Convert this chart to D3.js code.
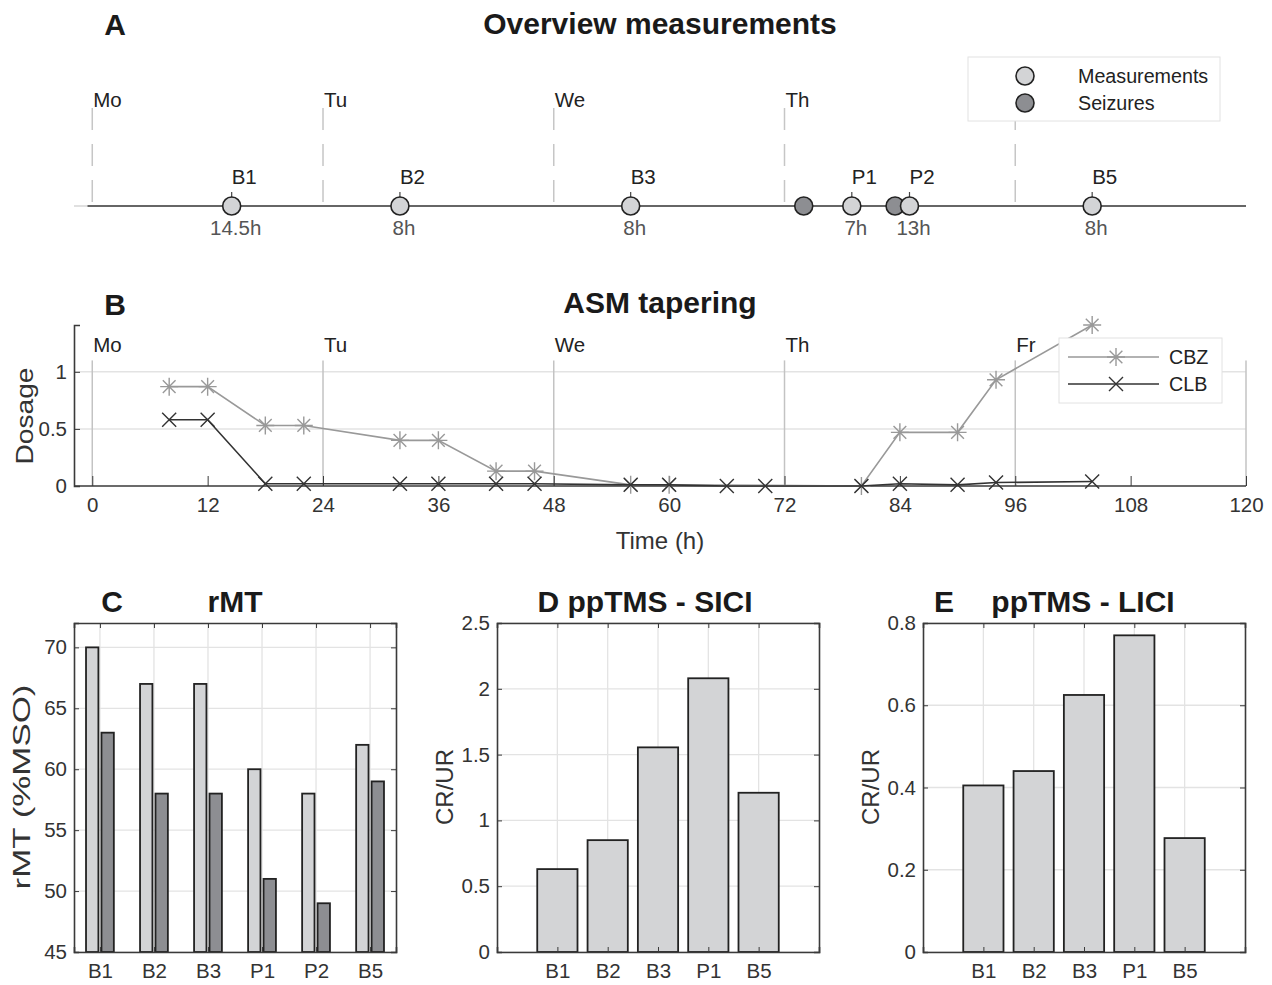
<!DOCTYPE html>
<html>
<head>
<meta charset="utf-8">
<script src="https://cdn.jsdelivr.net/npm/d3@7"></script>
<style>
body{margin:0;background:#fff}
text{font-family:"Liberation Sans",Arial,Helvetica,sans-serif}
</style>
</head>
<body>
<svg id="fig" width="1272" height="985"></svg>
<script>
// ---- data ----
var dayNames = ['Mo','Tu','We','Th','Fr','']
var dayHours = [0,24,48,72,96,120]

var measNames = ['B1','B2','B3','P1','P2','B5']
var measHours = [14.5,32,56,79,85,104]
var measClock = ['14.5h','8h','8h','7h','13h','8h']
var seizureHours = [74,83.5]

var doseHours = [8,12,18,22,32,36,42,46,56,60,66,70,80,84,90,94,104]
var cbz = [0.87,0.87,0.53,0.53,0.40,0.40,0.13,0.13,0.01,0.01,null,null,0.0,0.47,0.47,0.93,1.41]
var clb = [0.58,0.58,0.02,0.02,0.02,0.02,0.02,0.02,0.01,0.01,0.0,0.0,0.0,0.02,0.01,0.03,0.04]
var timeTicks = [0,12,24,36,48,60,72,84,96,108,120]
var doseTicks = [0,0.5,1]

var rmtCats = ['B1','B2','B3','P1','P2','B5']
var rmtLight = [70,67,67,60,58,62]
var rmtDark = [63,58,58,51,49,59]
var rmtTicks = [45,50,55,60,65,70]

var ppCats = ['B1','B2','B3','P1','B5']
var sici = [0.63,0.85,1.555,2.08,1.21]
var siciTicks = [0,0.5,1,1.5,2,2.5]
var lici = [0.405,0.44,0.625,0.77,0.277]
var liciTicks = [0,0.2,0.4,0.6,0.8]

// ---- colours / fonts ----
var axisCol = '#3a3a3a'
var gridCol = '#e3e3e3'
var lightFill = '#d3d4d6'
var darkFill = '#8d8e92'
var fs = '20.5px'      // tick labels, day labels
var lfs = '19.7px'     // legend text
var afs = '24px'       // axis labels

var svg = d3.select('#fig')

function title(x, y, txt){
    svg.append('text').attr('x',x).attr('y',y)
        .attr('text-anchor','middle')
        .style('font-size','30px').style('font-weight','bold').style('fill','#1a1a1a')
        .text(txt)
}

// shared time scale for A and B
var xT = d3.scaleLinear().domain([-1.9,120]).range([74,1246])

// ================= A =================
title(115, 35, 'A')
title(660, 34, 'Overview measurements')

var gA = svg.append('g')
var lineY = 206

gA.selectAll('line.day').data(dayHours.slice(0,5)).enter().append('line')
    .attr('x1',function(d){return xT(d)}).attr('x2',function(d){return xT(d)})
    .attr('y1',108).attr('y2',lineY)
    .attr('stroke','#c6c6c6').attr('stroke-width',1.5)
    .attr('stroke-dasharray','22,14')
gA.selectAll('text.day').data(dayNames.slice(0,5)).enter().append('text')
    .attr('x',function(d,i){return xT(dayHours[i])+1}).attr('y',107)
    .style('font-size',fs).style('fill','#222')
    .text(function(d){return d})

gA.append('line').attr('x1',xT(-1.9)).attr('x2',xT(-0.5)).attr('y1',lineY).attr('y2',lineY)
    .attr('stroke','#e0e0e0').attr('stroke-width',2)
gA.append('line').attr('x1',xT(-0.5)).attr('x2',xT(120)).attr('y1',lineY).attr('y2',lineY)
    .attr('stroke','#666').attr('stroke-width',2)

// stems above measurements
gA.selectAll('line.stem').data(measHours).enter().append('line')
    .attr('x1',function(d){return xT(d)}).attr('x2',function(d){return xT(d)})
    .attr('y1',lineY).attr('y2',lineY-14).attr('stroke','#444').attr('stroke-width',1.2)

gA.selectAll('circle.sz').data(seizureHours).enter().append('circle')
    .attr('cx',function(d){return xT(d)}).attr('cy',lineY).attr('r',9)
    .attr('fill',darkFill).attr('stroke','#222').attr('stroke-width',1.6)
gA.selectAll('circle.ms').data(measHours).enter().append('circle')
    .attr('cx',function(d){return xT(d)}).attr('cy',lineY).attr('r',9)
    .attr('fill',lightFill).attr('stroke','#222').attr('stroke-width',1.6)

gA.selectAll('text.mn').data(measNames).enter().append('text')
    .attr('x',function(d,i){return xT(measHours[i])}).attr('y',184)
    .style('font-size',fs).style('fill','#222')
    .text(function(d){return d})
gA.selectAll('text.mc').data(measClock).enter().append('text')
    .attr('x',function(d,i){return xT(measHours[i])+4}).attr('y',235)
    .attr('text-anchor','middle')
    .style('font-size',fs).style('fill','#555')
    .text(function(d){return d})

// legend A
var lgA = svg.append('g').attr('transform','translate(968,57)')
lgA.append('rect').attr('width',252).attr('height',64).attr('fill','#fff').attr('stroke','#e2e2e2')
lgA.append('circle').attr('cx',57).attr('cy',19).attr('r',9).attr('fill',lightFill).attr('stroke','#222').attr('stroke-width',1.6)
lgA.append('circle').attr('cx',57).attr('cy',46).attr('r',9).attr('fill',darkFill).attr('stroke','#222').attr('stroke-width',1.6)
lgA.append('text').attr('x',110).attr('y',26).style('font-size',lfs).style('fill','#222').text('Measurements')
lgA.append('text').attr('x',110).attr('y',53).style('font-size',lfs).style('fill','#222').text('Seizures')

// ================= B =================
title(115, 315, 'B')
title(660, 313, 'ASM tapering')

var yD = d3.scaleLinear().domain([0,1.41]).range([486,325])
var gB = svg.append('g')

// horizontal grid
gB.selectAll('line.hg').data([0.5,1]).enter().append('line')
    .attr('x1',74).attr('x2',1246)
    .attr('y1',function(d){return yD(d)}).attr('y2',function(d){return yD(d)})
    .attr('stroke',gridCol).attr('stroke-width',1.5)

// day lines
gB.selectAll('line.day').data(dayHours).enter().append('line')
    .attr('x1',function(d){return xT(d)}).attr('x2',function(d){return xT(d)})
    .attr('y1',yD(1.1)).attr('y2',yD(0))
    .attr('stroke','#c3c3c3').attr('stroke-width',1.5)
gB.selectAll('text.day').data(dayNames.slice(0,5)).enter().append('text')
    .attr('x',function(d,i){return xT(dayHours[i])+1}).attr('y',352)
    .style('font-size',fs).style('fill','#222')
    .text(function(d){return d})

var xAxB = d3.axisBottom(xT).tickValues(timeTicks).tickSize(-10).tickPadding(11)
var yAxB = d3.axisLeft(yD).tickValues(doseTicks).tickSize(-6).tickPadding(7).tickFormat(function(d){return String(d)})
var gxB = gB.append('g').attr('transform','translate(0,486)').call(xAxB)
var gyB = gB.append('g').attr('transform','translate(74,0)').call(yAxB)
;[gxB,gyB].forEach(function(g){
    g.select('.domain').attr('stroke',axisCol).attr('stroke-width',1.6)
    g.selectAll('.tick line').attr('stroke',axisCol)
    g.selectAll('.tick text').style('font-size',fs).style('fill','#333')
        .style('font-family','"Liberation Sans",Arial,sans-serif')
})
gxB.select('.domain').attr('d','M74,0H1246')

svg.append('text').attr('x',660).attr('y',549).attr('text-anchor','middle')
    .style('font-size',afs).style('fill','#333').text('Time (h)')
svg.append('text').attr('transform','translate(33,416) rotate(-90)').attr('text-anchor','middle')
    .attr('textLength',97).attr('lengthAdjust','spacingAndGlyphs')
    .style('font-size',afs).style('fill','#333').text('Dosage')

function asterisk(s){
    var d = s*0.707
    return 'M0,'+(-s)+'V'+s+'M'+(-s)+',0H'+s+'M'+(-d)+','+(-d)+'L'+d+','+d+'M'+(-d)+','+d+'L'+d+','+(-d)
}
function cross(s){
    return 'M'+(-s)+','+(-s)+'L'+s+','+s+'M'+(-s)+','+s+'L'+s+','+(-s)
}

var cbzPts = doseHours.map(function(h,i){return [h,cbz[i]]}).filter(function(p){return p[1]!==null})
var clbPts = doseHours.map(function(h,i){return [h,clb[i]]})
var line = d3.line().x(function(p){return xT(p[0])}).y(function(p){return yD(p[1])})

gB.append('path').datum(cbzPts).attr('d',line).attr('fill','none').attr('stroke','#999').attr('stroke-width',1.6)
gB.selectAll('path.cbzm').data(cbzPts).enter().append('path')
    .attr('transform',function(p){return 'translate('+xT(p[0])+','+yD(p[1])+')'})
    .attr('d',asterisk(9)).attr('fill','none').attr('stroke','#999').attr('stroke-width',1.4)
gB.append('path').datum(clbPts).attr('d',line).attr('fill','none').attr('stroke','#333').attr('stroke-width',1.6)
gB.selectAll('path.clbm').data(clbPts).enter().append('path')
    .attr('transform',function(p){return 'translate('+xT(p[0])+','+yD(p[1])+')'})
    .attr('d',cross(7)).attr('fill','none').attr('stroke','#333').attr('stroke-width',1.4)

// legend B
var lgB = svg.append('g').attr('transform','translate(1059,338)')
lgB.append('rect').attr('width',163).attr('height',65).attr('fill','#fff').attr('stroke','#e2e2e2')
lgB.append('line').attr('x1',9).attr('x2',100).attr('y1',19).attr('y2',19).attr('stroke','#999').attr('stroke-width',1.6)
lgB.append('path').attr('transform','translate(57,19)').attr('d',asterisk(9)).attr('fill','none').attr('stroke','#999').attr('stroke-width',1.4)
lgB.append('line').attr('x1',9).attr('x2',100).attr('y1',46).attr('y2',46).attr('stroke','#333').attr('stroke-width',1.6)
lgB.append('path').attr('transform','translate(57,46)').attr('d',cross(7)).attr('fill','none').attr('stroke','#333').attr('stroke-width',1.4)
lgB.append('text').attr('x',110).attr('y',26).style('font-size',lfs).style('fill','#222').text('CBZ')
lgB.append('text').attr('x',110).attr('y',53).style('font-size',lfs).style('fill','#222').text('CLB')

// ================= C, D, E =================
function barPanel(opt){
    var g = svg.append('g')
    var x = d3.scaleLinear().domain(opt.xDomain).range([opt.left,opt.left+322])
    var y = d3.scaleLinear().domain(opt.yDomain).range([952,623])
    var idx = opt.cats.map(function(c,i){return i+1})

    // grid
    g.selectAll('line.hg').data(opt.yTicks).enter().append('line')
        .attr('x1',x.range()[0]).attr('x2',x.range()[1])
        .attr('y1',function(d){return y(d)}).attr('y2',function(d){return y(d)})
        .attr('stroke',gridCol).attr('stroke-width',1.3)
    g.selectAll('line.vg').data(idx).enter().append('line')
        .attr('x1',function(d){return x(d)}).attr('x2',function(d){return x(d)})
        .attr('y1',623).attr('y2',952)
        .attr('stroke',gridCol).attr('stroke-width',1.3)

    // bars
    opt.series.forEach(function(s){
        g.selectAll(null).data(s.values).enter().append('rect')
            .attr('x',function(d,i){return x(i+1+s.offset-s.width/2)})
            .attr('width',function(){return x(s.width)-x(0)})
            .attr('y',function(d){return y(d)})
            .attr('height',function(d){return y(opt.yDomain[0])-y(d)})
            .attr('fill',s.fill).attr('stroke','#222').attr('stroke-width',1.8)
    })

    // axes
    var yAx = d3.axisLeft(y).tickValues(opt.yTicks).tickSize(-5).tickPadding(7).tickFormat(function(d){return String(d)})
    var yAxR = d3.axisRight(y).tickValues(opt.yTicks).tickSize(-5).tickFormat('')
    var xAx = d3.axisBottom(x).tickValues(idx).tickSize(-5).tickPadding(11).tickFormat(function(d){return opt.cats[d-1]})
    var xAxT = d3.axisTop(x).tickValues(idx).tickSize(-5).tickFormat('')
    var a1 = g.append('g').attr('transform','translate('+opt.left+',0)').call(yAx)
    var a2 = g.append('g').attr('transform','translate('+(opt.left+322)+',0)').call(yAxR)
    var a3 = g.append('g').attr('transform','translate(0,952)').call(xAx)
    var a4 = g.append('g').attr('transform','translate(0,623)').call(xAxT)
    ;[a1,a2,a3,a4].forEach(function(a){
        a.select('.domain').attr('stroke',axisCol).attr('stroke-width',1.6)
        a.selectAll('.tick line').attr('stroke',axisCol)
        a.selectAll('.tick text').style('font-size',fs).style('fill','#333')
            .style('font-family','"Liberation Sans",Arial,sans-serif')
    })

    var yl = g.append('text').attr('transform','translate('+(opt.left-44)+',787) rotate(-90)')
        .attr('text-anchor','middle').style('font-size',afs).style('fill','#333').text(opt.ylabel)
    if(opt.ylabelLen) yl.attr('textLength',opt.ylabelLen).attr('lengthAdjust','spacingAndGlyphs')
}

barPanel({left:74, xDomain:[0.52,6.48], yDomain:[45,72], yTicks:rmtTicks, cats:rmtCats,
    ylabel:'rMT (%MSO)', ylabelLen:205,
    series:[{values:rmtLight, offset:-0.143, width:0.229, fill:lightFill},
            {values:rmtDark, offset:0.143, width:0.229, fill:darkFill}]})
title(112, 612, 'C')
title(235, 612, 'rMT')

barPanel({left:497, xDomain:[-0.2,6.2], yDomain:[0,2.5], yTicks:siciTicks, cats:ppCats,
    ylabel:'CR/UR',
    series:[{values:sici, offset:0, width:0.8, fill:lightFill}]})
title(645, 612, 'D ppTMS - SICI')

barPanel({left:923, xDomain:[-0.2,6.2], yDomain:[0,0.8], yTicks:liciTicks, cats:ppCats,
    ylabel:'CR/UR',
    series:[{values:lici, offset:0, width:0.8, fill:lightFill}]})
title(944, 612, 'E')
title(1083, 612, 'ppTMS - LICI')
</script>
</body>
</html>
